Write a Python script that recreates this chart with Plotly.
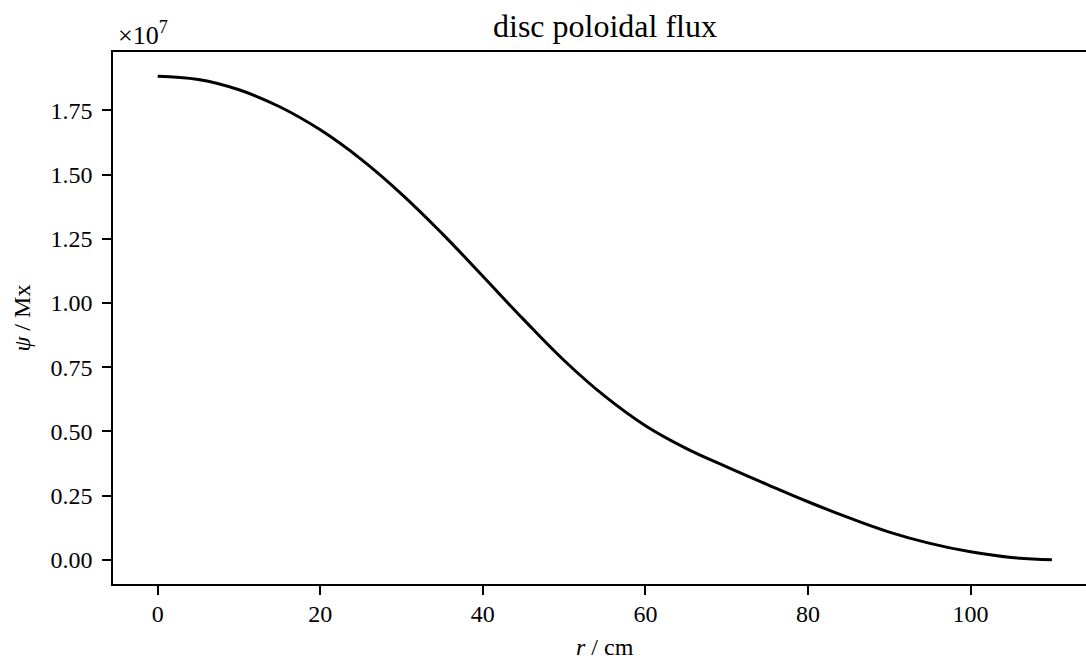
import plotly.graph_objects as go

# radius r / cm
r_cm = [0, 5, 10, 15, 20, 25, 30, 35, 40, 45, 50, 55, 60, 65, 70, 75, 80, 85, 90, 95, 100, 105, 110]
# disc poloidal flux psi, in units of 1e7 Mx
psi_1e7 = [1.883, 1.870, 1.830, 1.764, 1.674, 1.560, 1.424, 1.270, 1.104, 0.936, 0.776, 0.637,
           0.522, 0.434, 0.362, 0.293, 0.226, 0.164, 0.108, 0.064, 0.031, 0.009, 0.0]

x_ticks = [0, 20, 40, 60, 80, 100]
y_ticks = [0.0, 0.25, 0.5, 0.75, 1.0, 1.25, 1.5, 1.75]

FONT = "Liberation Serif"
FS = 24

fig = go.Figure()
fig.add_trace(go.Scatter(x=r_cm, y=psi_1e7, mode="lines",
                         line=dict(color="black", width=3, shape="spline", smoothing=1.2),
                         showlegend=False, hoverinfo="skip"))

fig.update_layout(
    width=1086, height=659,
    margin=dict(l=113, r=0, t=52, b=75, pad=0),
    paper_bgcolor="white", plot_bgcolor="white",
    font=dict(family=FONT, size=FS, color="black"),
    xaxis=dict(range=[-5.5, 114.2], tickvals=x_ticks, ticktext=[str(v) for v in x_ticks],
               showgrid=False, zeroline=False, showline=True, linecolor="black", linewidth=1.6,
               mirror=True, ticks="outside", ticklen=9, tickwidth=1.6, tickcolor="black",
               ticklabelstandoff=-2),
    yaxis=dict(range=[-0.0942, 1.9771], tickvals=y_ticks, ticktext=[f"{v:.2f}" for v in y_ticks],
               showgrid=False, zeroline=False, showline=True, linecolor="black", linewidth=1.6,
               mirror=False, ticks="outside", ticklen=9, tickwidth=1.6, tickcolor="black",
               ticklabelstandoff=5),
    annotations=[
        dict(text="disc poloidal flux", xref="paper", yref="paper", x=0.5057, y=1.049,
             xanchor="center", yanchor="middle", showarrow=False, font=dict(size=32)),
        dict(text="×10<sup>7</sup>", xref="paper", yref="paper", x=0.003, y=1.034,
             xanchor="left", yanchor="middle", showarrow=False, font=dict(size=26)),
        dict(text="<i>r</i> / cm", xref="paper", yref="paper", x=0.5057, y=-0.1185,
             xanchor="center", yanchor="middle", showarrow=False, font=dict(size=FS)),
        dict(text="<i>ψ</i> / Mx", xref="paper", yref="paper", x=-0.094, y=0.5,
             xanchor="center", yanchor="middle", showarrow=False, textangle=-90,
             font=dict(size=FS)),
    ],
)

fig.write_html("out.html", config={"displayModeBar": False},
               post_script="document.body.style.margin='0px';document.body.style.overflow='hidden';")
